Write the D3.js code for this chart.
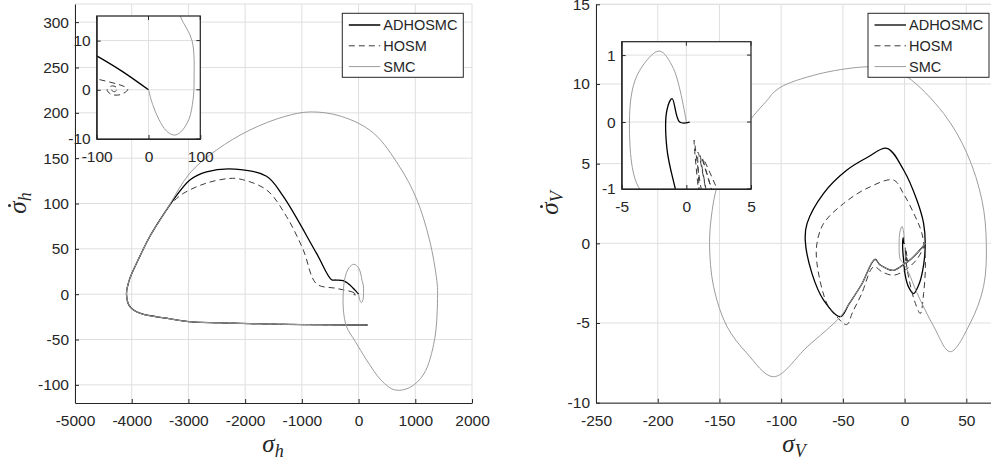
<!DOCTYPE html>
<html>
<head>
<meta charset="utf-8">
<script src="https://cdn.jsdelivr.net/npm/d3@7"></script>
<style>
    body { margin: 0; background: #fff; }
    svg text { font-family: "Liberation Sans", Arial, sans-serif; fill: #262626; }
    .axis-title { font-family: "Liberation Serif", "DejaVu Serif", serif; font-style: italic; font-size: 25px; fill: #262626; }
</style>
</head>
<body>
<div id="svg_container"></div>
<script>
const seriesNames = ["ADHOSMC", "HOSM", "SMC"];

const hTicksX = [-5000, -4000, -3000, -2000, -1000, 0, 1000, 2000];
const hTicksY = [-100, -50, 0, 50, 100, 150, 200, 250, 300];
const hZoomTicksX = [-100, 0, 100];
const hZoomTicksY = [-10, 0, 10];
const vTicksX = [-250, -200, -150, -100, -50, 0, 50];
const vTicksY = [-10, -5, 0, 5, 10, 15];
const vZoomTicksX = [-5, 0, 5];
const vZoomTicksY = [-1, 0, 1];

// sigma_h phase plane: shared start, then each controller
const startH = [[158, -34], [-448, -33.9], [-1500, -33], [-2212, -32], [-3000, -30.2], [-3386, -26.5],
    [-3857, -21], [-4032, -13.7], [-4092, 0], [-4040, 16], [-3915, 34], [-3681, 63.6], [-3386, 93]];
const adhosmcH = startH.concat([[-3300, 101], [-2975, 126], [-2681, 135], [-2182, 138], [-1623, 130],
    [-1330, 108], [-741, 45], [-476, 16], [-400, 15.6], [-271, 15], [-180, 11.5],
    [-100, 6.9], [-50, 3.7], [0, 0]]);
const hosmH = startH.concat([[-3300, 100], [-3093, 111], [-2681, 122.5], [-2300, 127.5], [-2094, 127],
    [-1623, 115], [-1270, 85.6], [-976, 49], [-741, 11.4], [-400, 6.5], [-100, 2.2], [-40, 0.1],
    [-55, -1.0], [-72, -0.9], [-80, 0], [-70, 0.8], [-60, 0.3], [-66, -0.4], [-72, 0]]);
const smcH = startH.concat([[-2975, 133.5], [-2504, 159], [-1917, 181], [-1300, 196], [-850, 201],
    [-300, 196], [257, 178], [729, 140], [1023, 105], [1250, 60], [1380, 15], [1393, 0],
    [1340, -50], [1150, -88], [900, -103], [640, -105.6], [400, -95], [141, -72.5], [-60, -52],
    [-212, -35.8], [-268, -17.3], [-271, 0], [-240, 18], [-170, 29], [-83, 33], [0, 29], [40, 22],
    [61, 15], [84, 10], [88, 2], [86, -2], [78, -6], [62, -8.6], [49.6, -9.2], [35, -8.4],
    [20, -6], [8, -3], [0, 0]]);

// sigma_V phase plane
const startV = [[17, 0], [12, -0.45], [5, -1.0], [-2, -1.4], [-9, -1.7], [-14, -1.6], [-20, -1.35],
    [-24, -1.0], [-35, -2.6], [-45, -3.8], [-52, -4.6]];
const adhosmcV = startV.concat([[-65.6, -3.56], [-75, -1.9], [-80.5, 0.2], [-79, 1.25], [-65.6, 3.14],
    [-46.7, 4.6], [-30, 5.4], [-14.3, 5.96], [-0.8, 4.6], [10, 2.7], [15.4, 1.25], [16.7, 0],
    [15.5, -1.3], [12, -2.5], [7.3, -3.15], [3, -2.7], [0.5, -2.0], [-0.85, -1], [-1.5, -0.4],
    [-1.5, 0.18], [-1.1, 0.35], [-0.52, 0], [0.26, 0]]);
const hosmV = [[17, 0], [10, -1.0], [0, -1.7], [-9, -2.0], [-18, -1.8], [-25, -1.47], [-35, -3.2],
    [-42, -4.3], [-47, -5.1], [-55, -4.6], [-63, -3.76], [-71, -1.25], [-71, 0], [-65.6, 1.25],
    [-49.4, 2.5], [-30.5, 3.45], [-9, 3.97], [-0.8, 3.1], [8.7, 1.67], [14, 0.63], [16.8, -1.05],
    [15.4, -3.14], [12.7, -4.4], [8, -3.6], [4, -2.4], [1.5, -1.3], [0.6, -0.27], [1.0, -1.1],
    [0.9, -0.45], [1.6, -1.1], [1.1, -0.5], [2.1, -1.1], [1.3, -0.55], [2.6, -1.1]];
const smcV = startV.concat([[-79, -6.5], [-106.2, -8.37], [-127.7, -6.9], [-144, -5.2], [-154.8, -2.7],
    [-158, 0], [-156, 2.0], [-152, 3.55], [-140, 6.0], [-124, 7.85], [-110, 9.1], [-107, 9.4],
    [-98, 9.9], [-65.6, 10.7], [-30.5, 11.08], [-15, 11.0], [2, 10.45], [31.6, 8.15], [50.5, 5.65],
    [62.7, 2.7], [66.2, 0], [64, -2.7], [53.2, -5.0], [37, -6.8], [23.5, -5.2], [10, -3.1],
    [3, -1.8], [-1.5, -1.2], [-3.6, -1], [-4.4, 0], [-3.8, 0.7], [-2.1, 1.06], [-1, 0.8], [0, 0]]);

const styles = [
    {color: "#000000", width: 1.3, dash: null},
    {color: "#3a3a3a", width: 1, dash: "6,4"},
    {color: "#9c9c9c", width: 1, dash: null}
];

const svg = d3.select("#svg_container").append("svg")
        .attr("width", 991)
        .attr("height", 463);

let clipCount = 0;

function panel(area, xDom, yDom, xTicks, yTicks, series, inset) {
    const x = d3.scaleLinear().domain(xDom).range([area.x0, area.x1]);
    const y = d3.scaleLinear().domain(yDom).range([area.y0, area.y1]);
    const g = svg.append("g");
    const id = "clip" + (clipCount++);
    svg.append("clipPath").attr("id", id).append("rect")
            .attr("x", area.x0).attr("y", area.y1)
            .attr("width", area.x1 - area.x0).attr("height", area.y0 - area.y1);

    if (inset) {
        g.append("rect")
                .attr("x", area.x0).attr("y", area.y1)
                .attr("width", area.x1 - area.x0).attr("height", area.y0 - area.y1)
                .attr("fill", "#fff");
    }

    // grid
    const grid = g.append("g").attr("stroke", "#dfdfdf").attr("stroke-width", 1);
    grid.selectAll(".gx").data(xTicks).enter().append("line")
            .attr("x1", d => x(d)).attr("x2", d => x(d))
            .attr("y1", area.y0).attr("y2", area.y1);
    grid.selectAll(".gy").data(yTicks.concat([yDom[1]])).enter().append("line")
            .attr("y1", d => y(d)).attr("y2", d => y(d))
            .attr("x1", area.x0).attr("x2", area.x1);

    const line = d3.line()
            .x(d => x(d[0]))
            .y(d => y(d[1]))
            .curve(d3.curveCatmullRom.alpha(0.5));

    const curves = g.append("g").attr("clip-path", "url(#" + id + ")");
    series.forEach((s, i) => {
        curves.append("path")
                .attr("d", line(s))
                .attr("fill", "none")
                .attr("stroke", styles[i].color)
                .attr("stroke-width", styles[i].width)
                .attr("stroke-dasharray", styles[i].dash)
                .attr("stroke-linejoin", "round");
    });

    const fmt = d => String(d);
    const ax = g.append("g")
            .attr("transform", "translate(0," + area.y0 + ")")
            .call(d3.axisBottom(x).tickValues(xTicks).tickFormat(fmt)
                    .tickSizeInner(-4).tickSizeOuter(0).tickPadding(12));
    const ay = g.append("g")
            .attr("transform", "translate(" + area.x0 + ",0)")
            .call(d3.axisLeft(y).tickValues(yTicks).tickFormat(fmt)
                    .tickSizeInner(-4).tickSizeOuter(0).tickPadding(6));
    [ax, ay].forEach(a => {
        a.attr("font-size", null).attr("font-family", null);
        a.selectAll("text").style("font-size", "15.5px").attr("fill", "#262626");
        a.selectAll("line").attr("stroke", "#262626");
        a.select(".domain").attr("stroke", "#262626");
    });

    if (inset) {
        g.append("g").attr("stroke", "#262626")
                .selectAll("line").data(xTicks).enter().append("line")
                .attr("x1", d => x(d)).attr("x2", d => x(d))
                .attr("y1", area.y1).attr("y2", area.y1 + 4);
        g.append("g").attr("stroke", "#262626")
                .selectAll("line").data(yTicks).enter().append("line")
                .attr("y1", d => y(d)).attr("y2", d => y(d))
                .attr("x1", area.x1).attr("x2", area.x1 - 4);
        g.append("rect")
                .attr("x", area.x0).attr("y", area.y1)
                .attr("width", area.x1 - area.x0).attr("height", area.y0 - area.y1)
                .attr("fill", "none").attr("stroke", "#262626").attr("stroke-width", 1.2);
    }
}

function axisTitle(x, y, sub, dotted, rotate) {
    const g = svg.append("g")
            .attr("transform", "translate(" + x + "," + y + ")" + (rotate ? "rotate(-90)" : ""));
    const t = g.append("text")
            .attr("class", "axis-title")
            .attr("text-anchor", "middle");
    t.append("tspan").text("\u03c3");
    t.append("tspan").attr("dy", 5).style("font-size", "18px").text(sub);
    if (dotted) {
        const e = t.node().getExtentOfChar(0);
        g.append("circle")
                .attr("cx", e.x + e.width / 2 + 2)
                .attr("cy", -16.5)
                .attr("r", 1.5)
                .attr("fill", "#262626");
    }
}

function legend(x0, y0) {
    const w = 121, h = 64;
    const g = svg.append("g").attr("transform", "translate(" + x0 + "," + y0 + ")");
    g.append("rect").attr("width", w).attr("height", h)
            .attr("fill", "#fff").attr("stroke", "#262626").attr("stroke-width", 1);
    seriesNames.forEach((name, i) => {
        const cy = 11.7 + i * 20.8;
        g.append("line")
                .attr("x1", 6.5).attr("x2", 38)
                .attr("y1", cy).attr("y2", cy)
                .attr("stroke", styles[i].color)
                .attr("stroke-width", styles[i].width)
                .attr("stroke-dasharray", styles[i].dash);
        g.append("text")
                .attr("x", 41).attr("y", cy + 5.3)
                .style("font-size", "14.5px")
                .attr("fill", "#000")
                .text(name);
    });
}

// left: sigma_h
panel({x0: 75, x1: 472, y0: 403, y1: 4}, [-5000, 2000], [-120, 320], hTicksX, hTicksY,
        [adhosmcH, hosmH, smcH], false);
panel({x0: 96.7, x1: 200.3, y0: 139, y1: 16}, [-100, 100], [-10, 15], hZoomTicksX, hZoomTicksY,
        [adhosmcH, hosmH, smcH], true);
legend(342.3, 13.3);
axisTitle(273, 452, "h", false, false);
axisTitle(26, 203, "h", true, true);

// right: sigma_V
panel({x0: 596, x1: 991, y0: 402.7, y1: 4.3}, [-250, 70], [-10, 15], vTicksX, vTicksY,
        [adhosmcV, hosmV, smcV], false);
panel({x0: 621.7, x1: 751, y0: 189, y1: 41.7}, [-5, 5], [-1, 1.2], vZoomTicksX, vZoomTicksY,
        [adhosmcV, hosmV, smcV], true);
legend(868, 13.3);
axisTitle(794, 452, "V", false, false);
axisTitle(558, 203, "V", true, true);
</script>
</body>
</html>
